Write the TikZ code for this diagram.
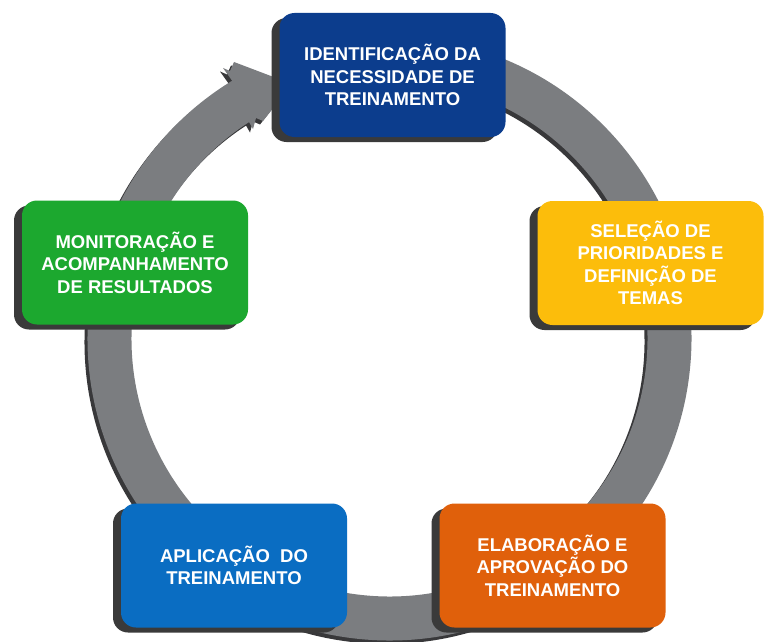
\documentclass[tikz,border=0pt]{standalone}
\usepackage{fontspec}
\setmainfont{Liberation Sans}
\usetikzlibrary{shadows,calc}
\definecolor{ringgray}{HTML}{7B7D80}
\definecolor{ringdark}{HTML}{38383A}
\definecolor{boxshadow}{HTML}{3A3A3A}
\definecolor{cnavy}{HTML}{0C3D8D}
\definecolor{cyellow}{HTML}{FCBD0B}
\definecolor{cgreen}{HTML}{1CA82F}
\definecolor{cblue}{HTML}{0A6DC2}
\definecolor{corange}{HTML}{E0600B}
\begin{document}
\begin{tikzpicture}[x=1pt,y=-1pt,
  stagebox/.style={rounded corners=15pt, minimum width=226pt, minimum height=124pt,
    inner sep=0pt, align=center, text=white,
    font=\bfseries\fontsize{18.5}{22.5}\selectfont,
    drop shadow={shadow xshift=-8pt, shadow yshift=-5pt, opacity=1, fill=boxshadow}},
  ringline/.style={line width=44pt, draw=ringgray},
  ringshade/.style={line width=44pt, draw=ringdark},
  headfill/.style={fill=ringgray},
  headshade/.style={fill=ringdark}]
\useasboundingbox (0,0) rectangle (777,642);
\fill[white] (0,0) rectangle (777,642);
\coordinate (c) at (389.5,338.5);
\coordinate (cs) at (386.5,342);
% ring shadow and ring
\draw[ringshade] ($(cs)+(-85:280)$) arc[start angle=-85, end angle=241, radius=280];
\fill[headshade, shift={(-3,3.5)}] (233,82) -- (223,68) -- (230,71) -- (234,62) -- (292,84) -- (263,121) -- (256,118) -- (253,129) -- (245,115) -- cycle;
\draw[ringline] ($(c)+(-85:280)$) arc[start angle=-85, end angle=241, radius=280];
\fill[headfill] (233,82) -- (223,68) -- (230,71) -- (234,62) -- (292,84) -- (263,121) -- (256,118) -- (253,129) -- (245,115) -- cycle;
% stages
\node[stagebox, fill=cnavy]   (ident) at (392.5,75)  {IDENTIFICAÇÃO DA\\NECESSIDADE DE\\TREINAMENTO};
\node[stagebox, fill=cyellow] (selec) at (650.5,263) {SELEÇÃO DE\\PRIORIDADES E\\DEFINIÇÃO DE\\TEMAS};
\node[stagebox, fill=corange] (elab)  at (552.5,565.5) {ELABORAÇÃO E\\APROVAÇÃO DO\\TREINAMENTO};
\node[stagebox, fill=cblue]   (aplic) at (234,565.5) {APLICAÇÃO\ \ DO\\TREINAMENTO};
\node[stagebox, fill=cgreen]  (monit) at (135,262.5) {MONITORAÇÃO E\\ACOMPANHAMENTO\\DE RESULTADOS};
\end{tikzpicture}
\end{document}
